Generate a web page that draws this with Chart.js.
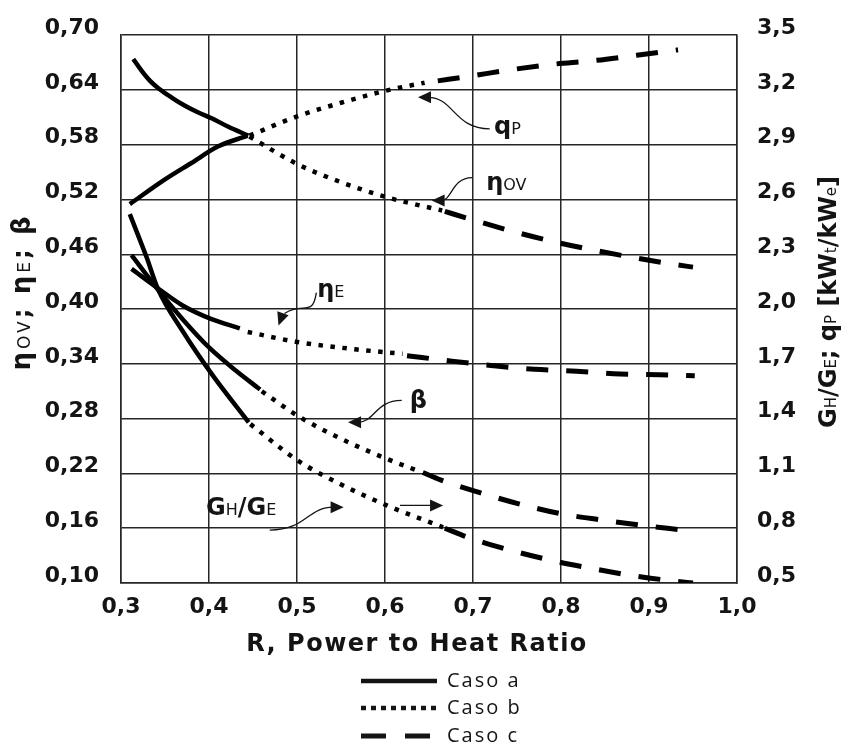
<!DOCTYPE html>
<html>
<head>
<meta charset="utf-8">
<script src="https://cdn.jsdelivr.net/npm/chart.js@4"></script>
<style>
  html, body { margin: 0; padding: 0; background: #fff; }
</style>
</head>
<body>
<canvas id="myChart" width="843" height="746"></canvas>
<script>
// axis ticks
const rTicks = [0.3, 0.4, 0.5, 0.6, 0.7, 0.8, 0.9, 1.0];
const leftTicks = [0.10, 0.16, 0.22, 0.28, 0.34, 0.40, 0.46, 0.52, 0.58, 0.64, 0.70];
const rightTicks = [0.5, 0.8, 1.1, 1.4, 1.7, 2.0, 2.3, 2.6, 2.9, 3.2, 3.5];
const cases = ['Caso a', 'Caso b', 'Caso c'];

// qP [kWt/kWe] (right axis), [R, value]
const qP_a = [[0.310, 2.575], [0.350, 2.710], [0.380, 2.800], [0.410, 2.890], [0.444, 2.950]];
const qP_b = [[0.446, 2.950], [0.500, 3.055], [0.550, 3.130], [0.600, 3.195], [0.645, 3.240]];
const qP_c = [[0.660, 3.250], [0.697, 3.276], [0.742, 3.310], [0.789, 3.340], [0.836, 3.360], [0.886, 3.390], [0.933, 3.420]];

// eta OV (left axis)
const etaOV_a = [[0.314, 0.674], [0.3235, 0.661], [0.333, 0.650], [0.3424, 0.642], [0.3576, 0.6317], [0.3727, 0.6227],
  [0.3879, 0.6153], [0.403, 0.609], [0.422, 0.5997], [0.4447, 0.590]];
const etaOV_b = [[0.446, 0.589], [0.500, 0.559], [0.550, 0.539], [0.604, 0.522], [0.665, 0.508]];
const etaOV_c = [[0.668, 0.507], [0.697, 0.4985], [0.742, 0.486], [0.789, 0.4745], [0.835, 0.465], [0.882, 0.4565], [0.932, 0.4485], [0.950, 0.446]];

// eta E (left axis)
const etaE_a = [[0.312, 0.444], [0.343, 0.422], [0.370, 0.404], [0.403, 0.389], [0.435, 0.379]];
const etaE_b = [[0.444, 0.375], [0.500, 0.364], [0.566, 0.356], [0.620, 0.351]];
const etaE_c = [[0.625, 0.349], [0.676, 0.343], [0.723, 0.338], [0.770, 0.334], [0.818, 0.332], [0.867, 0.329], [0.912, 0.328], [0.952, 0.327]];

// beta (left axis)
const beta_a = [[0.312, 0.459], [0.343, 0.420], [0.370, 0.389], [0.400, 0.358], [0.430, 0.333], [0.458, 0.312]];
const beta_b = [[0.460, 0.310], [0.501, 0.283], [0.550, 0.258], [0.602, 0.236], [0.640, 0.222]];
const beta_c = [[0.643, 0.221], [0.663, 0.213], [0.706, 0.1995], [0.751, 0.187], [0.799, 0.176], [0.847, 0.169], [0.893, 0.163], [0.939, 0.158]];

// GH/GE [kWt/kWe] (right axis)
const ghge_a = [[0.310, 2.52], [0.329, 2.285], [0.342, 2.11], [0.370, 1.88], [0.403, 1.645], [0.445, 1.38]];
const ghge_b = [[0.447, 1.37], [0.501, 1.17], [0.550, 1.04], [0.602, 0.925], [0.666, 0.805]];
const ghge_c = [[0.668, 0.80], [0.697, 0.745], [0.742, 0.68], [0.788, 0.625], [0.835, 0.58], [0.882, 0.54], [0.930, 0.51], [0.950, 0.50]];

const ink = '#141414';
const gridInk = '#262626';
const tickFont = { family: 'DejaVu Sans', weight: 'bold', size: 22 };

// line style per case: solid, dotted, dashed
const caseStyle = [
  { dash: [], width: 4.5, key: [] },
  { dash: [4.5, 7.5], width: 4.5, key: [5, 5] },
  { dash: [22, 18], width: 5, key: [25, 19] }
];

const fmt = (v, d) => v.toFixed(d).replace('.', ',');

function series(parts, axis) {
  return parts.map((pts, i) => ({
    label: cases[i],
    data: pts.map(p => ({ x: p[0], y: p[1] })),
    yAxisID: axis,
    borderColor: '#000',
    borderWidth: caseStyle[i].width,
    borderDash: caseStyle[i].dash,
    borderCapStyle: 'butt',
    pointRadius: 0,
    cubicInterpolationMode: 'monotone',
    fill: false
  }));
}

// text made of pieces with different fonts (subscripts)
const B = 'bold 24px "DejaVu Sans"';
const S = '15px "DejaVu Sans"';
const NB = 'bold 24px "DejaVu Sans"';
const NS = '16px "DejaVu Sans"';

function partsWidth(ctx, parts) {
  let w = 0;
  parts.forEach(([t, f]) => { ctx.font = f; w += ctx.measureText(t).width; });
  return w;
}
function drawParts(ctx, parts, x, y) {
  parts.forEach(([t, f]) => {
    ctx.font = f;
    ctx.fillText(t, x, y);
    x += ctx.measureText(t).width;
  });
}

// labels with arrows inside the plot, in data units of R and the left axis
const notes = [
  { parts: [['q', NB], ['P', NS]], at: [0.724, 0.601], tail: [0.719, 0.5975], head: [0.6375, 0.632], bend: 'h' },
  { parts: [['η', NB], ['OV', NS]], at: [0.715, 0.5395], tail: [0.699, 0.544], head: [0.653, 0.519], bend: 'h' },
  { parts: [['η', NB], ['E', NS]], at: [0.523, 0.4224], tail: [0.522, 0.418], head: [0.479, 0.382], bend: 'v' },
  { parts: [['β', NB]], at: [0.628, 0.300], tail: [0.619, 0.300], head: [0.558, 0.276], bend: 'h' },
  { parts: [['G', NB], ['H', NS], ['/G', NB], ['E', NS]], at: [0.3966, 0.183], tail: [0.469, 0.158], head: [0.553, 0.183], bend: 'h' },
  { parts: [], at: null, tail: [0.617, 0.185], head: [0.666, 0.185], bend: 'line' }
];

function arrowHead(ctx, fx, fy, tx, ty) {
  const a = Math.atan2(ty - fy, tx - fx);
  const len = 13, half = 6;
  ctx.beginPath();
  ctx.moveTo(tx, ty);
  ctx.lineTo(tx - len * Math.cos(a) + half * Math.sin(a), ty - len * Math.sin(a) - half * Math.cos(a));
  ctx.lineTo(tx - len * Math.cos(a) - half * Math.sin(a), ty - len * Math.sin(a) + half * Math.cos(a));
  ctx.closePath();
  ctx.fill();
}

const decor = {
  id: 'decor',
  afterDraw(chart) {
    const ctx = chart.ctx;
    const xs = chart.scales.x, ys = chart.scales.y;
    const px = v => xs.getPixelForValue(v);
    const py = v => ys.getPixelForValue(v);
    ctx.save();
    ctx.fillStyle = ink;
    ctx.strokeStyle = ink;
    ctx.textBaseline = 'alphabetic';

    // x axis title
    ctx.font = 'bold 24px "DejaVu Sans"';
    ctx.letterSpacing = '1.5px';
    ctx.textAlign = 'center';
    ctx.fillText('R, Power to Heat Ratio', (chart.chartArea.left + chart.chartArea.right) / 2 - 12, 651);
    ctx.textAlign = 'left';

    // left axis title
    const leftTitle = [['η', 'bold 26px "DejaVu Sans"'], ['OV', '17px "DejaVu Sans"'], ['; ', 'bold 24px "DejaVu Sans"'],
      ['η', 'bold 26px "DejaVu Sans"'], ['E', '17px "DejaVu Sans"'], ['; ', 'bold 24px "DejaVu Sans"'], ['β', 'bold 26px "DejaVu Sans"']];
    ctx.letterSpacing = '3px';
    let w = partsWidth(ctx, leftTitle);
    ctx.save();
    ctx.translate(30, 292);
    ctx.rotate(-Math.PI / 2);
    drawParts(ctx, leftTitle, -w / 2, 0);
    ctx.restore();

    // right axis title
    const rightTitle = [['G', B], ['H', S], ['/G', B], ['E', S], ['; q', B], ['P', S], [' [kW', B], ['t', S], ['/kW', B], ['e', S], [']', B]];
    ctx.letterSpacing = '0px';
    w = partsWidth(ctx, rightTitle);
    ctx.save();
    ctx.translate(836, 302);
    ctx.rotate(-Math.PI / 2);
    drawParts(ctx, rightTitle, -w / 2, 0);
    ctx.restore();

    // labels and arrows
    ctx.lineWidth = 1.3;
    notes.forEach(n => {
      if (n.at) drawParts(ctx, n.parts, px(n.at[0]), py(n.at[1]) + 8);
      const tx = px(n.tail[0]), ty = py(n.tail[1]);
      const hx = px(n.head[0]), hy = py(n.head[1]);
      const dir = Math.sign(hx - tx) || 1;
      ctx.beginPath();
      ctx.moveTo(tx, ty);
      if (n.bend === 'line') {
        ctx.lineTo(hx - dir * 10, hy);
        ctx.stroke();
        arrowHead(ctx, tx, ty, hx, hy);
      } else if (n.bend === 'v') {
        const ex = hx + 6, ey = hy - 12;
        ctx.bezierCurveTo(tx - 4, ty + 26, ex + 18, ty + 8, ex, ey);
        ctx.stroke();
        arrowHead(ctx, ex + 2, ey - 10, hx, hy);
      } else {
        const mx = (tx + hx) / 2;
        const ex = hx - dir * 10;
        ctx.bezierCurveTo(mx, ty, mx, hy, ex, hy);
        ctx.stroke();
        arrowHead(ctx, mx, hy, hx, hy);
      }
    });

    // legend
    const rows = [681, 708, 736];
    ctx.font = '20px "Open Sans"';
    ctx.letterSpacing = '2px';
    ctx.textBaseline = 'middle';
    cases.forEach((c, i) => {
      ctx.beginPath();
      ctx.setLineDash(caseStyle[i].key);
      ctx.lineWidth = caseStyle[i].width;
      ctx.lineCap = 'butt';
      ctx.moveTo(361, rows[i]);
      ctx.lineTo(i === 2 ? 431 : 437, rows[i]);
      ctx.stroke();
      ctx.fillText(c, 447, rows[i]);
    });
    ctx.restore();
  }
};

const ctx = document.getElementById('myChart');

new Chart(ctx, {
  type: 'line',
  data: {
    datasets: [
      ...series([qP_a, qP_b, qP_c], 'y2'),
      ...series([etaOV_a, etaOV_b, etaOV_c], 'y'),
      ...series([etaE_a, etaE_b, etaE_c], 'y'),
      ...series([beta_a, beta_b, beta_c], 'y'),
      ...series([ghge_a, ghge_b, ghge_c], 'y2')
    ]
  },
  options: {
    responsive: false,
    animation: false,
    events: [],
    layout: { padding: { top: 34, left: 0, right: 0, bottom: 0 } },
    plugins: { legend: { display: false }, tooltip: { enabled: false } },
    scales: {
      x: {
        type: 'linear',
        min: 0.3,
        max: 1.0,
        afterBuildTicks: s => { s.ticks = rTicks.map(v => ({ value: v })); },
        afterFit: s => { s.height = 163; },
        ticks: { callback: v => fmt(v, 1), font: tickFont, color: ink, padding: 11, autoSkip: false, maxRotation: 0 },
        grid: { color: gridInk, lineWidth: 1.5, drawTicks: false },
        border: { color: gridInk, width: 1.5 }
      },
      y: {
        position: 'left',
        min: 0.10,
        max: 0.70,
        afterBuildTicks: s => { s.ticks = leftTicks.map(v => ({ value: v })); },
        afterFit: s => { s.width = 121; },
        ticks: { callback: v => fmt(v, 2), font: tickFont, color: ink, padding: 22, labelOffset: -7, autoSkip: false },
        grid: { color: gridInk, lineWidth: 1.5, drawTicks: false },
        border: { color: gridInk, width: 1.5 }
      },
      y2: {
        position: 'right',
        min: 0.5,
        max: 3.5,
        afterBuildTicks: s => { s.ticks = rightTicks.map(v => ({ value: v })); },
        afterFit: s => { s.width = 106; },
        ticks: { callback: v => fmt(v, 1), font: tickFont, color: ink, padding: 20, labelOffset: -7, autoSkip: false },
        grid: { drawOnChartArea: false, drawTicks: false },
        border: { color: gridInk, width: 1.5 }
      }
    }
  },
  plugins: [decor]
});
</script>
</body>
</html>
